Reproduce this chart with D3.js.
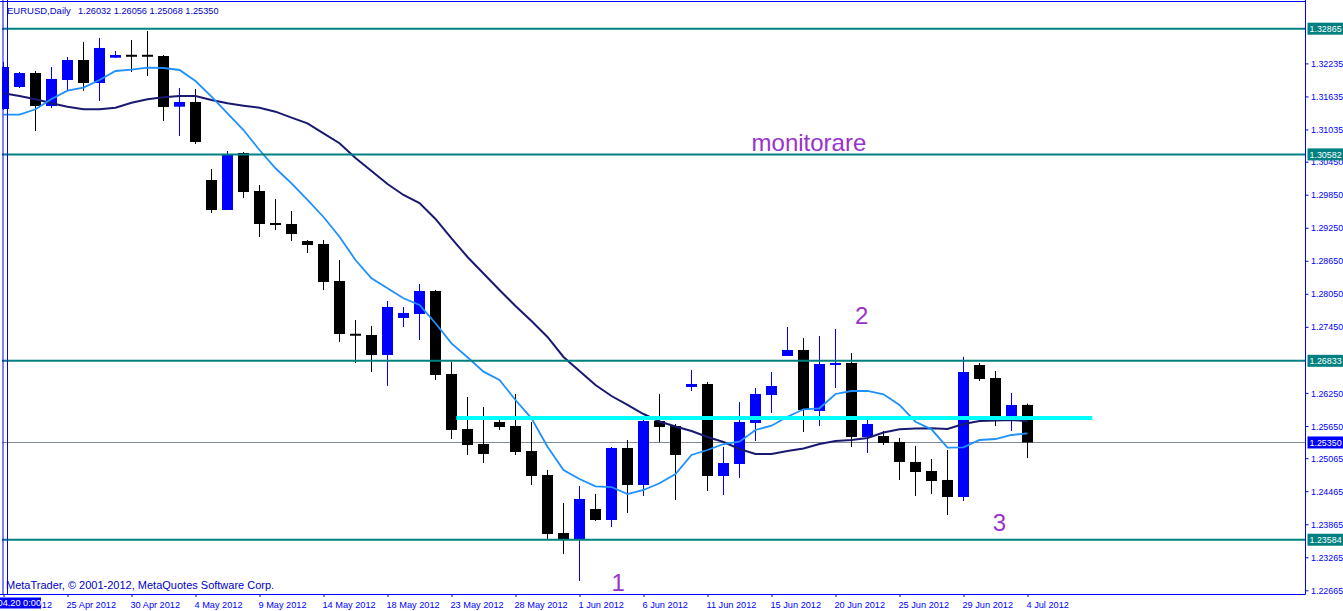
<!DOCTYPE html>
<html><head><meta charset="utf-8">
<script src="https://cdn.jsdelivr.net/npm/d3@7"></script>
<style>html,body{margin:0;padding:0;background:#fff;overflow:hidden}</style>
</head><body><svg id="c" width="1343" height="611"></svg>
<script>
const dates = ["2012-04-20","2012-04-22","2012-04-23","2012-04-24","2012-04-25","2012-04-26","2012-04-27","2012-04-29","2012-04-30",
"2012-05-01","2012-05-02","2012-05-03","2012-05-04","2012-05-06","2012-05-07","2012-05-08","2012-05-09","2012-05-10","2012-05-11",
"2012-05-13","2012-05-14","2012-05-15","2012-05-16","2012-05-17","2012-05-18","2012-05-20","2012-05-21","2012-05-22","2012-05-23",
"2012-05-24","2012-05-25","2012-05-27","2012-05-28","2012-05-29","2012-05-30","2012-05-31","2012-06-01","2012-06-03","2012-06-04",
"2012-06-05","2012-06-06","2012-06-07","2012-06-08","2012-06-10","2012-06-11","2012-06-12","2012-06-13","2012-06-14","2012-06-15",
"2012-06-17","2012-06-18","2012-06-19","2012-06-20","2012-06-21","2012-06-22","2012-06-24","2012-06-25","2012-06-26","2012-06-27",
"2012-06-28","2012-06-29","2012-07-01","2012-07-02","2012-07-03","2012-07-04"];

const openP = [1.31407,1.31806,1.32060,1.31461,1.31933,1.32297,1.31879,1.32338,1.32387,1.32387,1.32369,1.31448,1.31534,1.30117,1.29572,1.30608,
1.29917,1.29336,1.29318,1.29009,1.28955,1.28283,1.27320,1.27302,1.26939,1.27611,1.27683,1.28101,1.26594,1.25595,1.25322,1.25722,1.25649,
1.25195,1.24759,1.23706,1.23597,1.24142,1.23942,1.25250,1.24578,1.25740,1.25649,1.26358,1.26412,1.24741,1.24959,1.25704,1.26212,1.26921,
1.27030,1.25922,1.26757,1.26794,1.25450,1.25468,1.25359,1.24996,1.24832,1.24669,1.24360,1.26757,1.26521,1.25758,1.26032];
const highP = [1.32260,1.32079,1.32097,1.32169,1.32351,1.32624,1.32696,1.32460,1.32660,1.32823,1.32387,1.31788,1.31770,1.30317,1.30644,1.30626,
1.30026,1.29772,1.29554,1.29027,1.29027,1.28664,1.27575,1.27466,1.27920,1.27811,1.28228,1.28119,1.26812,1.26176,1.25994,1.25776,1.26231,
1.25722,1.24850,1.24251,1.24560,1.24414,1.25268,1.25395,1.25831,1.26231,1.25686,1.26666,1.26448,1.25268,1.26085,1.26339,1.26630,1.27447,
1.27248,1.27284,1.27411,1.26975,1.25813,1.25559,1.25431,1.25286,1.25050,1.25213,1.26903,1.26794,1.26648,1.26249,1.26056];
const lowP = [1.31388,1.31788,1.31007,1.31425,1.31734,1.31734,1.31552,1.32333,1.32079,1.32006,1.31189,1.30916,1.30771,1.29518,1.29572,1.29790,
1.29082,1.29209,1.29009,1.28791,1.28119,1.27175,1.26794,1.26630,1.26376,1.27447,1.27211,1.26485,1.25413,1.25123,1.24977,1.25577,1.25123,
1.24578,1.23597,1.23325,1.22834,1.23924,1.23815,1.24069,1.24378,1.25359,1.24305,1.26285,1.24469,1.24396,1.24705,1.25377,1.25885,1.26921,
1.25540,1.25649,1.26339,1.25268,1.25159,1.25304,1.24669,1.24378,1.24414,1.24033,1.24287,1.26467,1.25649,1.25559,1.25068];
const closeP = [1.32169,1.32060,1.31461,1.31952,1.32297,1.31879,1.32515,1.32387,1.32360,1.32360,1.31443,1.31534,1.30807,1.29572,1.30571,1.29899,
1.29318,1.29300,1.29136,1.28937,1.28265,1.27320,1.27293,1.26939,1.27811,1.27702,1.28101,1.26576,1.25577,1.25304,1.25141,1.25631,1.25177,
1.24741,1.23688,1.23597,1.24324,1.23942,1.25250,1.24578,1.25740,1.25631,1.25123,1.26412,1.24741,1.24977,1.25722,1.26231,1.26376,1.27030,
1.25940,1.26775,1.26794,1.25450,1.25686,1.25341,1.24996,1.24814,1.24650,1.24360,1.26630,1.26503,1.25758,1.26031,1.25350];

const maFast = [1.31303,1.31303,1.31401,1.31588,1.31739,1.31794,1.31933,1.32097,1.32120,1.32157,1.32151,1.32115,1.31915,1.31630,1.31329,1.31025,
1.30662,1.30330,1.30057,1.29754,1.29445,1.29087,1.28664,1.28332,1.28150,1.27969,1.27847,1.27515,1.27151,1.26897,1.26636,1.26485,1.26122,
1.25789,1.25273,1.24850,1.24687,1.24554,1.24541,1.24414,1.24487,1.24609,1.24778,1.25123,1.25213,1.25322,1.25364,1.25577,1.25655,1.25818,
1.25953,1.25971,1.26231,1.26285,1.26285,1.26225,1.26031,1.25727,1.25589,1.25255,1.25262,1.25395,1.25413,1.25486,1.25517];
const maSlow = [1.31692,1.31643,1.31583,1.31510,1.31448,1.31401,1.31401,1.31430,1.31521,1.31583,1.31619,1.31643,1.31643,1.31570,1.31510,1.31467,
1.31430,1.31358,1.31249,1.31147,1.30965,1.30784,1.30517,1.30281,1.30045,1.29845,1.29699,1.29409,1.29055,1.28719,1.28419,1.28119,1.27829,
1.27556,1.27266,1.26903,1.26648,1.26394,1.26194,1.26031,1.25867,1.25731,1.25640,1.25559,1.25450,1.25359,1.25232,1.25141,1.25141,1.25195,
1.25241,1.25322,1.25377,1.25395,1.25431,1.25531,1.25589,1.25604,1.25608,1.25595,1.25686,1.25740,1.25749,1.25758,1.25735];

const levelLines = [1.32865, 1.30582, 1.26833, 1.23584];
const bidPrice = 1.25350;
const trendBars = [28.3, 68.05];
const trendPrice = 1.25795;

const yTickLabels = ["1.32235","1.31635","1.31035","1.30450","1.29850","1.29250","1.28650","1.28050","1.27450",
"1.26250","1.25650","1.25065","1.24465","1.23865","1.23265","1.22665"];
const xTickDates = ["2012-04-20","2012-04-25","2012-04-30","2012-05-04","2012-05-09","2012-05-14","2012-05-18","2012-05-23","2012-05-28",
"2012-06-01","2012-06-06","2012-06-11","2012-06-15","2012-06-20","2012-06-25","2012-06-29","2012-07-04"];
const xTickLabels = ["20 Apr 2012","25 Apr 2012","30 Apr 2012","4 May 2012","9 May 2012","14 May 2012","18 May 2012","23 May 2012","28 May 2012",
"1 Jun 2012","6 Jun 2012","11 Jun 2012","15 Jun 2012","20 Jun 2012","25 Jun 2012","29 Jun 2012","4 Jul 2012"];

const noteTexts = ["monitorare","1","2","3"];
const noteBars = [50.34, 38.41, 53.63, 62.25];
const notePrices = [1.30644, 1.22653, 1.27493, 1.23751];

const headerSymbol = "EURUSD,Daily";
const headerValues = ["1.26032","1.26056","1.25068","1.25350"];
const cursorLabel = "2012.04.20 0:00";
const copyright = "MetaTrader, \u00A9 2001-2012, MetaQuotes Software Corp.";

// ---------- drawing ----------
const svg = d3.select("#c");
const FONT = "'Liberation Sans', Arial, sans-serif";
const AXIS = "#0000ff";
const plotRight = 1305.5, plotBottom = 594;

const x = d3.scaleLinear().domain([0, 64]).range([3.5, 1027.5]);
const y = d3.scaleLinear().domain([1.22598, 1.33368]).range([594, 1]);
const idx = d => dates.indexOf(d);

svg.append("rect").attr("width",1343).attr("height",611).attr("fill","#fff");

const defs = svg.append("defs");
defs.append("clipPath").attr("id","plot")
  .append("rect").attr("x",2).attr("y",0).attr("width",plotRight-2).attr("height",plotBottom);
// local coordinates of the first tick (translated by x(0), plotBottom)
defs.append("clipPath").attr("id","firstlab")
  .append("rect").attr("x",41 - x(0)).attr("y",0).attr("width",30).attr("height",20);

const g = svg.append("g").attr("clip-path","url(#plot)");

// bid line
g.append("line").attr("x1",0).attr("x2",plotRight).attr("y1",Math.round(y(bidPrice))+0.5).attr("y2",Math.round(y(bidPrice))+0.5)
  .attr("stroke","#7f8b97").attr("stroke-width",1);

// candles
const bars = d3.range(dates.length);
const cg = g.append("g");
bars.forEach(i => {
  const bull = closeP[i] > openP[i];
  const col = bull ? "#0000ff" : "#000000";
  const cx = x(i);
  cg.append("line").attr("x1",cx).attr("x2",cx).attr("y1",y(highP[i])).attr("y2",y(lowP[i]))
    .attr("stroke",col).attr("stroke-width",1);
  const top = y(Math.max(openP[i],closeP[i])), bot = y(Math.min(openP[i],closeP[i]));
  const h = Math.max(2, bot-top);
  cg.append("rect").attr("x",cx-5.5).attr("width",11).attr("y",(top+bot)/2 - h/2).attr("height",h).attr("fill",col);
});

// moving averages
const line = d3.line().x((d,i)=>x(i)).y(d=>y(d));
g.append("path").datum(maSlow).attr("d",line).attr("fill","none").attr("stroke","#191970").attr("stroke-width",2);
g.append("path").datum(maFast).attr("d",line).attr("fill","none").attr("stroke","#1e90ff").attr("stroke-width",1.8);

// horizontal level lines
levelLines.forEach(v => {
  g.append("line").attr("x1",2).attr("x2",plotRight).attr("y1",y(v)).attr("y2",y(v))
    .attr("stroke","#008080").attr("stroke-width",2);
});

// cyan trend line
g.append("line").attr("x1",x(trendBars[0])).attr("x2",x(trendBars[1])).attr("y1",y(trendPrice)).attr("y2",y(trendPrice))
  .attr("stroke","#00ffff").attr("stroke-width",4);

// annotations
noteTexts.forEach((t,i) => {
  svg.append("text").attr("x",x(noteBars[i])).attr("y",y(notePrices[i])).attr("text-anchor","middle")
    .attr("font-family",FONT).attr("font-size",24).attr("fill","#9932cc").text(t);
});

// frame lines
svg.append("line").attr("x1",0).attr("x2",plotRight).attr("y1",1.5).attr("y2",1.5).attr("stroke",AXIS).attr("stroke-width",1);
svg.append("line").attr("x1",3).attr("x2",3).attr("y1",0).attr("y2",plotBottom).attr("stroke",AXIS).attr("stroke-width",1);
svg.append("line").attr("x1",7.5).attr("x2",7.5).attr("y1",0).attr("y2",plotBottom).attr("stroke",AXIS).attr("stroke-width",1);
svg.append("line").attr("x1",plotRight).attr("x2",plotRight).attr("y1",0).attr("y2",plotBottom+0.5).attr("stroke",AXIS).attr("stroke-width",1);
svg.append("line").attr("x1",0).attr("x2",plotRight).attr("y1",plotBottom+0.5).attr("y2",plotBottom+0.5).attr("stroke",AXIS).attr("stroke-width",1);

// right axis
const yAxis = d3.axisRight(y).tickValues(yTickLabels.map(Number)).tickFormat((d,i)=>yTickLabels[i])
  .tickSize(3).tickSizeOuter(0).tickPadding(2.5);
const ya = svg.append("g").attr("transform",`translate(${plotRight},0)`).call(yAxis);
ya.select(".domain").remove();
ya.selectAll("line").attr("stroke",AXIS);
ya.selectAll("text").attr("fill",AXIS).attr("font-family",FONT).attr("font-size",8.9).attr("dy","0.35em");

// bottom axis
const xAxis = d3.axisBottom(x).tickValues(xTickDates.map(idx)).tickFormat((d,i)=>xTickLabels[i])
  .tickSize(3).tickSizeOuter(0).tickPadding(3);
const xa = svg.append("g").attr("transform",`translate(0,${plotBottom})`).call(xAxis);
xa.select(".domain").remove();
xa.selectAll("line").attr("stroke",AXIS);
xa.selectAll("text").attr("fill",AXIS).attr("font-family",FONT).attr("font-size",9.2)
  .attr("text-anchor","start").attr("dx",-1.5).attr("dy","0.9em");
// first label sits under the cursor date box: only its tail shows
xa.selectAll(".tick").filter((d,i)=>i===0).select("text").attr("clip-path","url(#firstlab)");

// price boxes
function priceBox(v, fill) {
  const yy = y(v);
  svg.append("rect").attr("x",plotRight+2).attr("y",yy-6).attr("width",40).attr("height",12).attr("fill",fill);
  svg.append("text").attr("x",plotRight+4).attr("y",yy).attr("dy","0.35em").attr("fill","#fff")
    .attr("font-family",FONT).attr("font-size",8.9).text(d3.format(".5f")(v));
}
levelLines.forEach(v => priceBox(v, "#008080"));
priceBox(bidPrice, "#0000ff");

// cursor date box
svg.append("rect").attr("x",0).attr("y",597.5).attr("width",41).attr("height",11).attr("fill","#0000ff");
svg.append("text").attr("x",41).attr("y",606).attr("text-anchor","end").attr("fill","#fff")
  .attr("font-family",FONT).attr("font-size",9.2).text(cursorLabel);

// header
svg.append("text").attr("x",7).attr("y",14).attr("fill","#0000cc").attr("font-family",FONT).attr("font-size",9.5).text(headerSymbol);
svg.append("text").attr("x",78).attr("y",14).attr("fill","#0000cc").attr("font-family",FONT).attr("font-size",9.2)
  .text(headerValues.join(" "));

// copyright
svg.append("text").attr("x",6).attr("y",589).attr("fill","#0000cc").attr("font-family",FONT).attr("font-size",11).text(copyright);
</script></body></html>
